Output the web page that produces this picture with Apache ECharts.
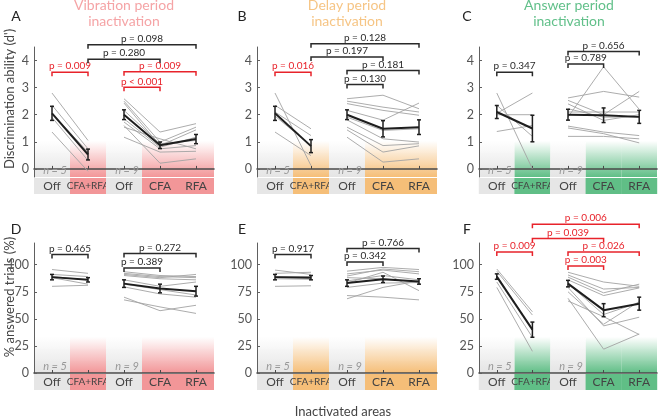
<!DOCTYPE html>
<html><head><meta charset="utf-8">
<script src="https://cdn.jsdelivr.net/npm/echarts@6/dist/echarts.min.js"></script>
<style>html,body{margin:0;padding:0;background:#fff}#c{width:660px;height:417px}</style>
</head><body><div id="c"></div>
<script>
// ---------- labels ----------
const categories = ['Off', 'CFA+RFA', 'Off', 'CFA', 'RFA'];
const dprimeTicks = [0, 1, 2, 3, 4];
const answeredTicks = [0, 25, 50, 75, 100];
const panelLetters = ['A', 'B', 'C', 'D', 'E', 'F'];
const periodTitles = ['Vibration period\ninactivation', 'Delay period\ninactivation', 'Answer period\ninactivation'];
const yTitles = ["Discrimination ability (d')", '% answered trials (%)'];
const xTitle = 'Inactivated areas';

// ---------- panel A : d', vibration ----------
const A_group1 = [[2.80, 1.05], [2.35, 0.74], [2.05, 0.62], [1.90, 0.31], [1.36, -0.09]];
const A_group2 = [[2.59, 1.36, 1.67], [2.50, 0.99, 1.54], [2.43, 0.86, 1.44], [2.16, 0.93, 1.05], [1.85, 0.80, 1.17], [1.73, 0.74, 0.86], [1.60, 0.21, 0.37], [1.54, 1.11, 0.74], [1.17, 0.62, 0.65]];
const A_mean = [2.05, 0.53, 2.00, 0.87, 1.10];
const A_sem = [0.26, 0.20, 0.18, 0.12, 0.17];
const A_tests = [[0, 1, 3.57, 'p = 0.009', 1], [1, 3, 4.05, 'p = 0.280', 0], [1, 4, 4.58, 'p = 0.098', 0], [2, 4, 3.59, 'p = 0.009', 1], [2, 3, 3.01, 'p < 0.001', 1]];

// ---------- panel B : d', delay ----------
const B_group1 = [[2.80, 0.12], [2.35, 1.48], [2.10, 1.23], [1.95, 0.86], [1.36, 0.49]];
const B_group2 = [[2.59, 2.72, 2.22], [2.50, 2.28, 2.10], [2.41, 2.16, 1.98], [2.16, 1.80, 2.43], [1.91, 1.42, 1.48], [1.81, 1.11, 0.99], [1.54, 0.86, 0.93], [1.44, 0.62, 0.85], [1.17, 0.25, 0.37]];
const B_mean = [2.05, 0.84, 2.00, 1.48, 1.54];
const B_sem = [0.26, 0.24, 0.18, 0.30, 0.27];
const B_tests = [[0, 1, 3.57, 'p = 0.016', 1], [1, 3, 4.13, 'p = 0.197', 0], [1, 4, 4.62, 'p = 0.128', 0], [2, 4, 3.63, 'p = 0.181', 0], [2, 3, 3.12, 'p = 0.130', 0]];

// ---------- panel C : d', answer ----------
const C_group1 = [[2.80, 0.00], [2.35, 1.20], [2.05, 2.80], [2.00, 2.00], [1.38, 1.60]];
const C_group2 = [[2.62, 2.86, 2.65], [2.53, 2.00, 2.86], [2.40, 1.79, 2.00], [2.22, 1.91, 1.91], [2.10, 2.10, 2.10], [1.91, 3.77, 2.20], [1.58, 1.36, 1.23], [1.51, 1.30, 0.96], [1.20, 1.20, 1.11]];
const C_mean = [2.10, 1.49, 2.00, 1.98, 1.92];
const C_sem = [0.24, 0.49, 0.20, 0.27, 0.24];
const C_tests = [[0, 1, 3.57, 'p = 0.347', 0], [2, 3, 3.87, 'p = 0.789', 0], [2, 4, 4.33, 'p = 0.656', 0]];

// ---------- panel D : % answered, vibration ----------
const D_group1 = [[95.5, 92], [91, 89], [89, 86], [88, 82], [80, 81]];
const D_group2 = [[93.5, 90, 89], [92, 89, 88], [91, 88, 91], [90, 87, 86], [86, 80, 84], [82, 77, 72], [79.5, 73, 70], [70, 57.5, 62.5], [67.5, 61, 55]];
const D_mean = [88.5, 86, 82.5, 78, 75.5];
const D_sem = [2.5, 2, 3.5, 4, 4.5];
const D_tests = [[0, 1, 109.3, 'p = 0.465', 0], [2, 3, 96.9, 'p = 0.389', 0], [2, 4, 110.3, 'p = 0.272', 0]];

// ---------- panel E : % answered, delay ----------
const E_group1 = [[95, 91], [92, 93], [89, 89], [87, 86.5], [80, 80.5]];
const E_group2 = [[94, 97.5, 95.5], [91.5, 95, 91.5], [89.5, 96, 93.5], [88, 87, 84], [85, 90, 86], [83, 93, 76], [79, 83, 83.5], [71.5, 70, 67.5], [68.5, 79, 85]];
const E_mean = [88.5, 88, 83, 86.5, 84.5];
const E_sem = [2.5, 2, 3, 3, 2.5];
const E_tests = [[0, 1, 109.3, 'p = 0.917', 0], [2, 3, 102.5, 'p = 0.342', 0], [2, 4, 114.9, 'p = 0.766', 0]];

// ---------- panel F : % answered, answer ----------
const F_group1 = [[96, 56.5], [94, 53.5], [90, 40], [84, 33], [79, 20]];
const F_group2 = [[93, 84, 80], [90.5, 77.5, 79], [88.5, 74, 82], [86, 71.5, 78.5], [82.5, 54, 65], [79, 43.5, 51.5], [75, 45, 66], [69, 22, 36], [66.5, 52, 35.5]];
const F_mean = [89, 40, 82.5, 58, 64];
const F_sem = [2.5, 7, 3, 6, 6];
const F_tests = [[0, 1, 111.8, 'p = 0.009', 1], [2, 3, 98.8, 'p = 0.003', 1], [2, 4, 111.8, 'p = 0.026', 1], [1, 3, 124.2, 'p = 0.039', 1], [1, 4, 137.3, 'p = 0.006', 1]];

// ---------- styling ----------
const FONT = 'Lato';
const periodColors = [[242, 150, 152], [245, 190, 120], [96, 190, 134]];
const titleColors = ['#f5a4a6', '#f6c585', '#62c08a'];
const gridLeft = [34, 257, 479];
const gridTop = [47, 243];
const GW = 180, GH = 130;

const panels = [
  {g1: A_group1, g2: A_group2, mean: A_mean, sem: A_sem, tests: A_tests},
  {g1: B_group1, g2: B_group2, mean: B_mean, sem: B_sem, tests: B_tests},
  {g1: C_group1, g2: C_group2, mean: C_mean, sem: C_sem, tests: C_tests},
  {g1: D_group1, g2: D_group2, mean: D_mean, sem: D_sem, tests: D_tests},
  {g1: E_group1, g2: E_group2, mean: E_mean, sem: E_sem, tests: E_tests},
  {g1: F_group1, g2: F_group2, mean: F_mean, sem: F_sem, tests: F_tests}
];

function rgba(c, a) { return 'rgba(' + c[0] + ',' + c[1] + ',' + c[2] + ',' + a + ')'; }
const grayC = [228, 228, 228];

const chart = echarts.init(document.getElementById('c'), null, {renderer: 'canvas'});
const grids = [], xAxes = [], yAxes = [], series = [], graphics = [];

panels.forEach((p, k) => {
  const col = k % 3, row = Math.floor(k / 3);
  const pc = periodColors[col];
  const boxColor = rgba(pc, 1);
  grids.push({left: gridLeft[col], top: gridTop[row], width: GW, height: GH});
  xAxes.push({
    type: 'category', gridIndex: k, data: categories, boundaryGap: true,
    axisLine: {lineStyle: {color: '#4a4a4a', width: 1.6}},
    axisTick: {show: true, inside: true, alignWithLabel: true, length: 3, lineStyle: {color: '#4a4a4a'}},
    axisLabel: {
      interval: 0, margin: 1,
      formatter: (v, i) => (i === 0 || i === 2) ? '{off|' + v + '}' : (v === 'CFA+RFA' ? '{both|' + v + '}' : '{on|' + v + '}'),
      rich: {
        off: {backgroundColor: '#e6e6e6', width: 36, height: 16, lineHeight: 16, align: 'center', fontSize: 12, color: '#444', fontFamily: FONT},
        on: {backgroundColor: boxColor, width: 36, height: 16, lineHeight: 16, align: 'center', fontSize: 12, color: '#444', fontFamily: FONT},
        both: {backgroundColor: boxColor, width: 36, height: 16, lineHeight: 16, align: 'center', fontSize: 10, color: '#444', fontFamily: FONT}
      }
    },
    splitLine: {show: false}
  });
  yAxes.push({
    type: 'value', gridIndex: k,
    min: row === 0 ? -0.3 : 0, max: row === 0 ? 4.5 : 120,
    axisLine: {show: true, lineStyle: {color: '#606060', width: 1}},
    axisTick: {show: true, inside: true, length: 3, customValues: row === 0 ? dprimeTicks : answeredTicks, lineStyle: {color: '#606060'}},
    axisLabel: {customValues: row === 0 ? dprimeTicks : answeredTicks, color: '#555', fontSize: 12.5, fontFamily: FONT, margin: 5},
    splitLine: {show: false}
  });

  // background gradient bands
  series.push({
    type: 'custom', xAxisIndex: k, yAxisIndex: k, silent: true, z: 0,
    data: categories.map((c, i) => [i, 0]),
    renderItem: (params, api) => {
      const i = api.value(0);
      const cs = params.coordSys;
      const x = api.coord([i, 0])[0];
      const w = api.size([1, 0])[0];
      const bottom = cs.y + cs.height;
      const h = 36;
      const c = (i === 0 || i === 2) ? grayC : pc;
      return {type: 'rect', shape: {x: x - w / 2, y: bottom - h, width: w, height: h},
        style: {fill: new echarts.graphic.LinearGradient(0, 0, 0, 1, [{offset: 0, color: rgba(c, 0)}, {offset: 1, color: rgba(c, 1)}])}};
    }
  });

  // n labels
  series.push({
    type: 'custom', xAxisIndex: k, yAxisIndex: k, silent: true, z: 1,
    data: [[0, 0], [2, 0]],
    renderItem: (params, api) => {
      const i = api.value(0);
      const cs = params.coordSys;
      const x = api.coord([i, 0])[0];
      const n = i === 0 ? p.g1.length : p.g2.length;
      return {type: 'text', x: x + 3, y: cs.y + cs.height - 7,
        style: {text: 'n = ' + n, fill: '#999999', font: 'italic 11px ' + FONT, align: 'center', verticalAlign: 'middle'}};
    }
  });

  // individual lines
  p.g1.forEach(s => series.push({
    type: 'line', xAxisIndex: k, yAxisIndex: k, data: [s[0], s[1], '-', '-', '-'],
    symbol: 'none', silent: true, z: 2, lineStyle: {color: '#a3a3a3', width: 0.9}, animation: false
  }));
  p.g2.forEach(s => series.push({
    type: 'line', xAxisIndex: k, yAxisIndex: k, data: ['-', '-', s[0], s[1], s[2]],
    symbol: 'none', silent: true, z: 2, lineStyle: {color: '#a3a3a3', width: 0.9}, animation: false
  }));
  // mean lines
  series.push({
    type: 'line', xAxisIndex: k, yAxisIndex: k, data: [p.mean[0], p.mean[1], '-', '-', '-'],
    symbol: 'none', silent: true, z: 3, lineStyle: {color: '#1e1e1e', width: 2}, animation: false
  });
  series.push({
    type: 'line', xAxisIndex: k, yAxisIndex: k, data: ['-', '-', p.mean[2], p.mean[3], p.mean[4]],
    symbol: 'none', silent: true, z: 3, lineStyle: {color: '#1e1e1e', width: 2}, animation: false
  });
  // error bars
  series.push({
    type: 'custom', xAxisIndex: k, yAxisIndex: k, silent: true, z: 4,
    data: p.mean.map((m, i) => [i, m - p.sem[i], m + p.sem[i]]),
    renderItem: (params, api) => {
      const lo = api.coord([api.value(0), api.value(1)]);
      const hi = api.coord([api.value(0), api.value(2)]);
      const st = {stroke: '#1e1e1e', lineWidth: 1.5};
      return {type: 'group', children: [
        {type: 'line', shape: {x1: lo[0], y1: lo[1], x2: hi[0], y2: hi[1]}, style: st},
        {type: 'line', shape: {x1: lo[0] - 2, y1: lo[1], x2: lo[0] + 2, y2: lo[1]}, style: st},
        {type: 'line', shape: {x1: hi[0] - 2, y1: hi[1], x2: hi[0] + 2, y2: hi[1]}, style: st}
      ]};
    }
  });
  // significance brackets
  series.push({
    type: 'custom', xAxisIndex: k, yAxisIndex: k, silent: true, z: 5, clip: false,
    data: p.tests.map(t => [t[0], t[2], t[1]]),
    renderItem: (params, api) => {
      const t = p.tests[params.dataIndex];
      const a = api.coord([api.value(0), api.value(1)]);
      const b = api.coord([api.value(2), api.value(1)]);
      const color = t[4] ? '#e8232b' : '#2a2a2a';
      return {type: 'group', children: [
        {type: 'polyline', shape: {points: [[a[0], a[1] + 4], [a[0], a[1]], [b[0], b[1]], [b[0], b[1] + 4]]},
          style: {stroke: color, lineWidth: 1.5, fill: null}},
        {type: 'text', x: (a[0] + b[0]) / 2, y: a[1] - 6,
          style: {text: t[3], fill: color, font: '10px ' + FONT, align: 'center', verticalAlign: 'middle'}}
      ]};
    }
  });

  graphics.push({type: 'text', x: [16, 242, 467][col], y: [16, 229][row],
    style: {text: panelLetters[k], fill: '#222', font: '14px ' + FONT, align: 'center', verticalAlign: 'middle'}});
});

periodTitles.forEach((t, col) => graphics.push({
  type: 'text', x: gridLeft[col] + GW / 2, y: 13.5,
  style: {text: t, fill: titleColors[col], fontSize: 14, lineHeight: 16, fontFamily: FONT, align: 'center', verticalAlign: 'middle'}
}));
graphics.push({type: 'text', x: 10, y: 99, rotation: Math.PI / 2,
  style: {text: yTitles[0], fill: '#444', font: '13px ' + FONT, align: 'center', verticalAlign: 'middle'}});
graphics.push({type: 'text', x: 10, y: 297, rotation: Math.PI / 2,
  style: {text: yTitles[1], fill: '#444', font: '13px ' + FONT, align: 'center', verticalAlign: 'middle'}});
graphics.push({type: 'text', x: 343, y: 412,
  style: {text: xTitle, fill: '#444', font: '13px ' + FONT, align: 'center', verticalAlign: 'middle'}});

chart.setOption({
  animation: false,
  grid: grids, xAxis: xAxes, yAxis: yAxes, series: series, graphic: graphics
});
</script></body></html>
